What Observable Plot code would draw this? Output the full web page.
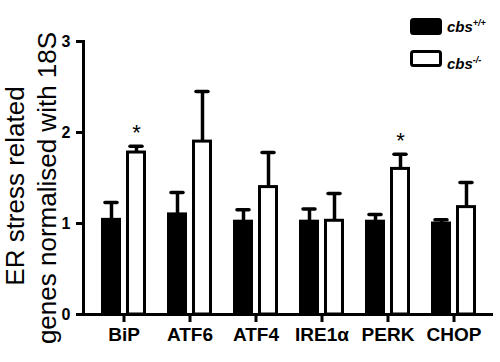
<!DOCTYPE html>
<html>
<head>
<meta charset="utf-8">
<script src="https://cdn.jsdelivr.net/npm/d3@7"></script>
<script src="https://cdn.jsdelivr.net/npm/@observablehq/plot@0.6"></script>
<style>
  body { margin: 0; background: white; }
  #chart { width: 500px; height: 362px; }
</style>
</head>
<body>
<div id="chart"></div>
<script>
const genes = ["BiP", "ATF6", "ATF4", "IRE1α", "PERK", "CHOP"];
const wt = [1.04, 1.10, 1.02, 1.02, 1.02, 1.00];
const wtErr = [0.19, 0.24, 0.13, 0.14, 0.08, 0.04];
const ko = [1.78, 1.90, 1.40, 1.03, 1.60, 1.18];
const koErr = [0.07, 0.55, 0.38, 0.30, 0.16, 0.27];
const sig = ["*", "", "", "", "*", ""];
const yTicks = [0, 1, 2, 3];
const yLabelLines = ["ER stress related", "genes normalised with 18S"];
const legendLabels = [
  {name: "cbs", sup: "+/+", fill: "black"},
  {name: "cbs", sup: "-/-", fill: "white"}
];

const rows = genes.map((g, i) => ({gene: g, wt: wt[i], wtErr: wtErr[i], ko: ko[i], koErr: koErr[i], sig: sig[i]}));

const font = "Arial, 'Liberation Sans', Helvetica, sans-serif";

const chart = Plot.plot({
  width: 500,
  height: 362,
  marginLeft: 83,
  marginRight: 7,
  marginTop: 41,
  marginBottom: 48,
  style: {fontFamily: font, background: "white", color: "black"},
  x: {domain: genes, paddingInner: 0.321, paddingOuter: 0.256, axis: null},
  y: {domain: [0, 3], axis: null},
  marks: [
    Plot.barY(rows, {x: "gene", y: "wt", fill: "black", stroke: "black", strokeWidth: 3, insetLeft: 1.5, insetRight: 26.5}),
    Plot.barY(rows, {x: "gene", y: "ko", fill: "white", stroke: "black", strokeWidth: 3, insetLeft: 26.5, insetRight: 1.5}),
    Plot.ruleX(rows, {x: "gene", y1: "wt", y2: d => d.wt + d.wtErr, dx: -12.5, strokeWidth: 3.5}),
    Plot.ruleX(rows, {x: "gene", y1: "ko", y2: d => d.ko + d.koErr, dx: 12.5, strokeWidth: 3.5}),
    Plot.tickY(rows, {x: "gene", y: d => d.wt + d.wtErr, insetLeft: 4, insetRight: 29, strokeWidth: 3.5, strokeLinecap: "round"}),
    Plot.tickY(rows, {x: "gene", y: d => d.ko + d.koErr, insetLeft: 29, insetRight: 4, strokeWidth: 3.5, strokeLinecap: "round"}),
    Plot.text(rows, {x: "gene", y: d => d.ko + d.koErr, text: "sig", dx: 12.5, dy: -13, fontSize: 22}),
    Plot.ruleY([0], {strokeWidth: 3}),
    Plot.frame({anchor: "left", strokeWidth: 3}),
    Plot.axisY({ticks: yTicks, tickSize: 7, tickPadding: 6, fontSize: 16, fontWeight: "bold", label: null, strokeWidth: 3, tickFormat: d => String(d)}),
    Plot.axisX({tickSize: 8, tickPadding: 5, fontSize: 19, fontWeight: "bold", label: null, strokeWidth: 3}),
    Plot.text([yLabelLines[0]], {frameAnchor: "left", textAnchor: "middle", rotate: -90, dx: -68, dy: 8, fontSize: 26}),
    Plot.text([yLabelLines[1]], {frameAnchor: "left", textAnchor: "middle", rotate: -90, dx: -36, dy: 10, fontSize: 26})
  ]
});

document.getElementById("chart").appendChild(chart);

// legend in top-right corner
const svg = d3.select(chart);
const lg = svg.append("g").attr("font-family", font).attr("text-anchor", "start");
legendLabels.forEach((l, i) => {
  const y0 = 19.5 + i * 32;
  lg.append("rect").attr("x", 411.5).attr("y", y0).attr("width", 29).attr("height", 14)
    .attr("rx", 2).attr("fill", l.fill).attr("stroke", "black").attr("stroke-width", 3);
  const t = lg.append("text").attr("x", 447).attr("y", y0 + 7 + (i === 0 ? 0 : 5) + 5)
    .attr("text-anchor", "start")
    .attr("font-size", 15).attr("font-style", "italic").attr("font-weight", "bold");
  t.append("tspan").text(l.name);
  t.append("tspan").attr("font-size", 9).attr("dy", -6).text(l.sup);
});
</script>
</body>
</html>
